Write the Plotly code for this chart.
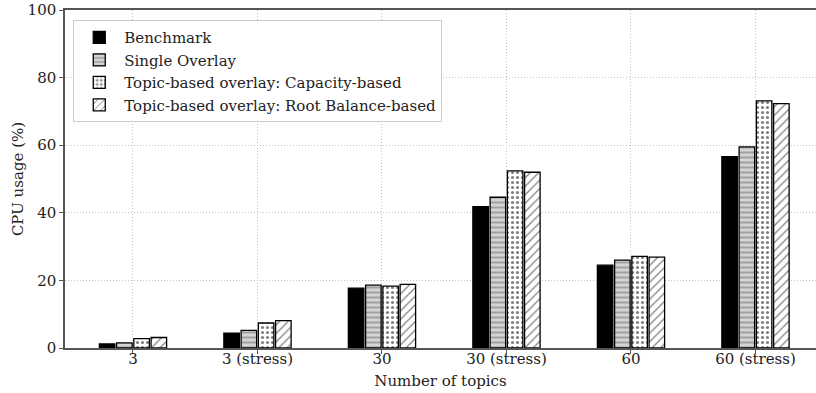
import plotly.graph_objects as go

# Workload scenarios (x categories)
categories = ["3", "3 (stress)", "30", "30 (stress)", "60", "60 (stress)"]

# CPU usage (%) per overlay strategy
benchmark = [1.2, 4.4, 17.7, 41.8, 24.5, 56.6]
single_overlay = [1.5, 5.2, 18.6, 44.6, 26.0, 59.5]
capacity_based = [2.8, 7.4, 18.3, 52.4, 27.1, 73.1]
root_balance_based = [3.1, 8.1, 18.8, 52.0, 26.9, 72.3]

series_names = [
    "Benchmark",
    "Single Overlay",
    "Topic-based overlay: Capacity-based",
    "Topic-based overlay: Root Balance-based",
]

FONT = "DejaVu Serif"
FS = 15

styles = [
    dict(color="black", pattern=dict(shape="")),
    dict(color="#cfcfcf", pattern=dict(shape="-", fgcolor="#6e6e6e", bgcolor="#d4d4d4",
                                        size=5, solidity=0.4, fillmode="overlay")),
    dict(color="white", pattern=dict(shape=".", fgcolor="black", bgcolor="white",
                                     size=5, solidity=0.3, fillmode="overlay")),
    dict(color="white", pattern=dict(shape="/", fgcolor="black", bgcolor="white",
                                     size=6, solidity=0.2, fillmode="overlay")),
]

fig = go.Figure()
for name, vals, st in zip(series_names,
                          [benchmark, single_overlay, capacity_based, root_balance_based],
                          styles):
    fig.add_trace(go.Bar(
        x=categories, y=vals, name=name,
        marker=dict(color=st["color"], pattern=st["pattern"],
                    line=dict(color="black", width=1.3)),
    ))

grid = dict(showgrid=True, gridcolor="#c4c4c4", griddash="1px,2px", gridwidth=1)

fig.update_layout(
    width=816, height=393,
    margin=dict(l=65, r=0, t=10, b=45),
    paper_bgcolor="white", plot_bgcolor="white",
    barmode="group", bargap=0.446, bargroupgap=0.1,
    font=dict(family=FONT, size=FS, color="#222"),
    showlegend=True,
    legend=dict(
        x=0.011, y=0.97, xanchor="left", yanchor="top",
        bgcolor="white", bordercolor="#cccccc", borderwidth=1,
        font=dict(family=FONT, size=FS, color="#222"),
        itemwidth=40, tracegroupgap=0,
    ),
    xaxis=dict(
        type="category", range=[-0.546, 5.486],
        title=dict(text="Number of topics", standoff=9,
                   font=dict(family=FONT, size=FS)),
        showline=True, linecolor="#555", linewidth=1.5, mirror=True,
        ticks="outside", ticklen=4, tickcolor="#555",
        tickfont=dict(family=FONT, size=FS),
        ticklabelstandoff=-8,
        **grid,
    ),
    yaxis=dict(
        range=[0, 100], tickvals=[0, 20, 40, 60, 80, 100],
        title=dict(text="CPU usage (%)", standoff=0,
                   font=dict(family=FONT, size=FS)),
        showline=True, linecolor="#555", linewidth=1.5,
        ticks="outside", ticklen=4, tickcolor="#555",
        tickfont=dict(family=FONT, size=FS),
        zeroline=False,
        **grid,
    ),
)

fig.write_html("out.html")
